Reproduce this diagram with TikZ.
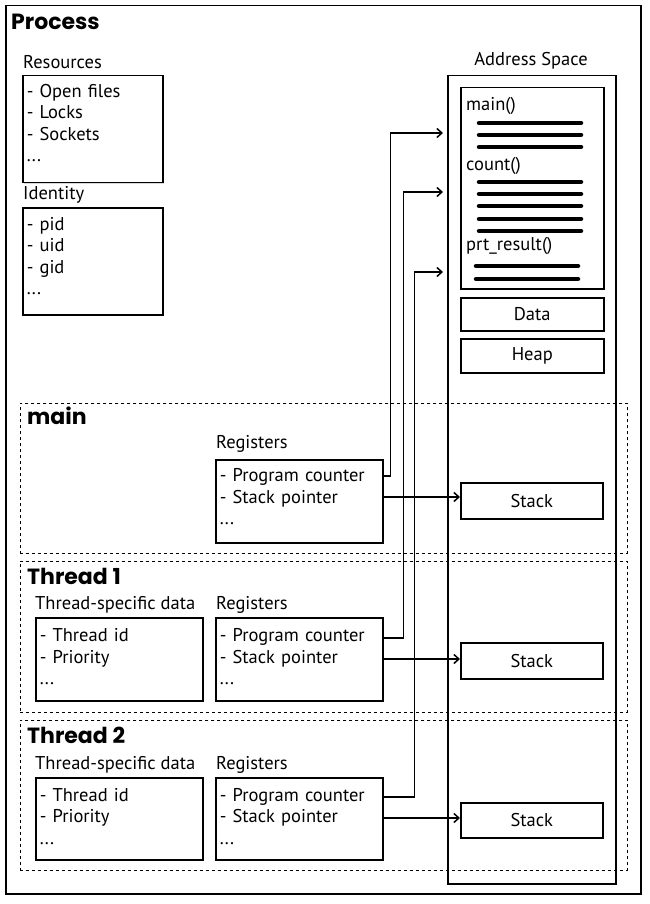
\documentclass[tikz,border=0pt]{standalone}
\usepackage{fontspec}
\setmainfont{PT Sans}
\newfontfamily\headfont{Poppins}
\usetikzlibrary{arrows.meta,shadows}

% extra depth below the last line of a list, lifts the text in its box
\newcommand{\tailgap}[1]{\rule[-#1]{0pt}{1pt}}

\tikzset{
  box/.style={draw, line width=1.5pt, fill=white,
    drop shadow={shadow xshift=1.2pt, shadow yshift=-1.2pt, opacity=0.3}},
  listbox/.style={box, anchor=north west, align=left, inner xsep=4pt},
  areabox/.style={box, anchor=north west},
  cell/.style={box, anchor=north west, align=center},
  thread/.style={draw, dashed, line width=0.7pt},
  title/.style={anchor=west, inner sep=0pt, font=\headfont\bfseries\fontsize{22}{24}\selectfont},
  caption/.style={anchor=west, inner sep=0pt},
  codeline/.style={line width=4.5pt, line cap=round},
  arr/.style={-{Straight Barb[length=5pt,width=9pt]}, line width=1.5pt}
}

\begin{document}
\begin{tikzpicture}[x=1pt,y=-1pt, font=\fontsize{18.5}{21.5}\selectfont]
	\useasboundingbox (0,0) rectangle (649,904);
	% process frame
	\node (proc) [draw, line width=1.5pt, anchor=north west, minimum width=635, minimum height=888] at (5,5) {};
	\node (proct) [title] at (11,22) {Process};
	% resources and identity
	\node (rest) [caption] at (23,62) {Resources};
	\node (res) [listbox, text width=132pt, minimum height=107pt] at (22,75) {- Open files\\- Locks\\- Sockets\\...\tailgap{13pt}};
	\node (idt) [caption] at (23,195) {Identity};
	\node (id) [listbox, text width=132pt, minimum height=107pt] at (22,207) {- pid\\- uid\\- gid\\...\tailgap{11pt}};
	% address space
	\node (ast) at (531,61) {Address Space};
	\node (as) [areabox, minimum width=168, minimum height=808] at (447,75) {};
	\node (code) [areabox, minimum width=143, minimum height=201] at (460,87) {};
	\node (fmain) [caption] at (466,106) {main()};
	\node (fcount) [caption] at (466,166) {count()};
	\node (fprt) [caption] at (466,246) {prt\_result()};
	\foreach \y in {123,135,147,182,194,206,219,231}
		\draw[codeline] (479,\y) -- (581,\y);
	\foreach \y in {266,279}
		\draw[codeline] (476,\y) -- (578,\y);
	\node (data) [cell, minimum width=143, minimum height=33] at (460,297) {Data};
	\node (heap) [cell, minimum width=143, minimum height=34] at (460,338) {Heap};
	% threads
	\node (thm) [thread, anchor=north west, minimum width=607, minimum height=150] at (20,403) {};
	\node (thmt) [title] at (27,416) {main};
	\node (regmt) [caption] at (216,444) {Registers};
	\node (regm) [listbox, text width=159pt, minimum height=83pt] at (215,459) {- Program counter\\- Stack pointer\\...\tailgap{9pt}};
	\node (stm) [cell, minimum width=142, minimum height=36] at (460,482) {Stack};
	\node (tha) [thread, anchor=north west, minimum width=607, minimum height=151] at (20,561) {};
	\node (thatt) [title] at (27,576) {Thread 1};
	\node (tsda) [caption] at (35,605) {Thread-specific data};
	\node (tsd1) [listbox, text width=159pt, minimum height=83pt] at (35,617) {- Thread id\\- Priority\\...\tailgap{5pt}};
	\node (regat) [caption] at (216,605) {Registers};
	\node (rega) [listbox, text width=159pt, minimum height=83pt] at (215,617) {- Program counter\\- Stack pointer\\...\tailgap{5pt}};
	\node (sta) [cell, minimum width=142, minimum height=36] at (460,642) {Stack};
	\node (thb) [thread, anchor=north west, minimum width=607, minimum height=150] at (20,720) {};
	\node (thbt) [title] at (27,735) {Thread 2};
	\node (tsdb) [caption] at (35,765) {Thread-specific data};
	\node (tsd2) [listbox, text width=159pt, minimum height=82pt] at (35,777) {- Thread id\\- Priority\\...\tailgap{5pt}};
	\node (regbt) [caption] at (216,765) {Registers};
	\node (regb) [listbox, text width=159pt, minimum height=82pt] at (215,777) {- Program counter\\- Stack pointer\\...\tailgap{5pt}};
	\node (stb) [cell, minimum width=142, minimum height=35] at (460,802) {Stack};
	% program counters into the code
	\coordinate (inm) at (443,133);
	\coordinate (ina) at (443,192);
	\coordinate (inb) at (443,272);
	\draw[arr] (regm.east |- 0,476) -- ++(7,0) |- (inm);
	\draw[arr] (rega.east |- 0,638) -- ++(20,0) |- (ina);
	\draw[arr] (regb.east |- 0,797) -- ++(31,0) |- (inb);
	% stack pointers
	\draw[arr] (regm.east |- 0,497) -- (stm.west |- 0,497);
	\draw[arr] (rega.east |- 0,659) -- (sta.west |- 0,659);
	\draw[arr] (regb.east |- 0,818) -- (stb.west |- 0,818);
\end{tikzpicture}
\end{document}
